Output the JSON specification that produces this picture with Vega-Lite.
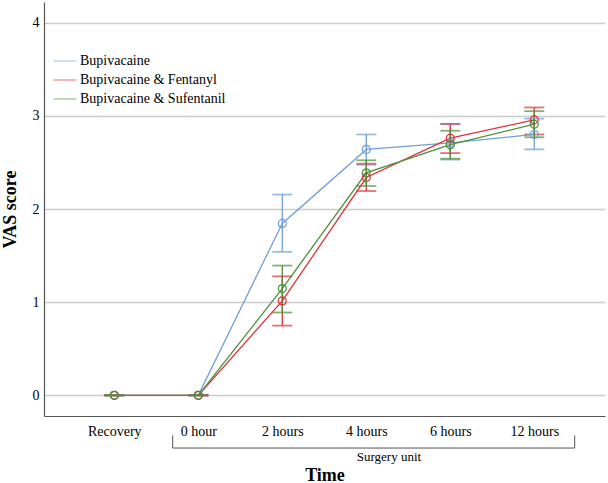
{
  "$schema": "https://vega.github.io/schema/vega-lite/v6.json",
  "autosize": {"type": "none"},
  "padding": {"left": 44, "top": 2, "right": 3, "bottom": 67},
  "width": 561,
  "height": 414,
  "background": "white",
  "config": {
    "view": {"stroke": null},
    "font": "Liberation Serif",
    "axis": {"labelColor": "black", "titleColor": "black", "domainColor": "#555", "domainWidth": 1.2}
  },
  "datasets": {
    "vas": [
      {"t": 0, "group": "Bupivacaine", "mean": 0, "lo": 0, "hi": 0},
      {"t": 1, "group": "Bupivacaine", "mean": 0, "lo": 0, "hi": 0},
      {"t": 2, "group": "Bupivacaine", "mean": 1.845, "lo": 1.54, "hi": 2.155},
      {"t": 3, "group": "Bupivacaine", "mean": 2.639, "lo": 2.475, "hi": 2.8},
      {"t": 4, "group": "Bupivacaine", "mean": 2.71, "lo": 2.53, "hi": 2.91},
      {"t": 5, "group": "Bupivacaine", "mean": 2.8, "lo": 2.64, "hi": 2.97},
      {"t": 0, "group": "Bupivacaine & Fentanyl", "mean": 0, "lo": 0, "hi": 0},
      {"t": 1, "group": "Bupivacaine & Fentanyl", "mean": 0, "lo": 0, "hi": 0},
      {"t": 2, "group": "Bupivacaine & Fentanyl", "mean": 1.013, "lo": 0.748, "hi": 1.277},
      {"t": 3, "group": "Bupivacaine & Fentanyl", "mean": 2.338, "lo": 2.193, "hi": 2.486},
      {"t": 4, "group": "Bupivacaine & Fentanyl", "mean": 2.76, "lo": 2.6, "hi": 2.914},
      {"t": 5, "group": "Bupivacaine & Fentanyl", "mean": 2.957, "lo": 2.8, "hi": 3.09},
      {"t": 0, "group": "Bupivacaine & Sufentanil", "mean": 0, "lo": 0, "hi": 0},
      {"t": 1, "group": "Bupivacaine & Sufentanil", "mean": 0, "lo": 0, "hi": 0},
      {"t": 2, "group": "Bupivacaine & Sufentanil", "mean": 1.146, "lo": 0.889, "hi": 1.393},
      {"t": 3, "group": "Bupivacaine & Sufentanil", "mean": 2.388, "lo": 2.247, "hi": 2.523},
      {"t": 4, "group": "Bupivacaine & Sufentanil", "mean": 2.69, "lo": 2.54, "hi": 2.84},
      {"t": 5, "group": "Bupivacaine & Sufentanil", "mean": 2.91, "lo": 2.77, "hi": 3.05}
    ],
    "bracket": [
      {"t": 0.695, "t2": 0.695, "lo": -0.43, "hi": -0.566},
      {"t": 0.695, "t2": 5.481, "lo": -0.566, "hi": -0.566},
      {"t": 5.481, "t2": 5.481, "lo": -0.43, "hi": -0.566}
    ],
    "note": [
      {"t": 3.27, "mean": -0.666, "label": "Surgery unit"}
    ]
  },
  "encoding": {
    "x": {
      "field": "t",
      "type": "quantitative",
      "title": "Time",
      "scale": {"domain": [-0.837, 5.842], "nice": false, "zero": false},
      "axis": {
        "values": [0, 1, 2, 3, 4, 5],
        "labelExpr": "['Recovery', '0 hour', '2 hours', '4 hours', '6 hours', '12 hours'][datum.value]",
        "grid": false,
        "ticks": false,
        "labelFontSize": 14,
        "labelPadding": 8,
        "titleFontSize": 18,
        "titleFontWeight": "bold",
        "titlePadding": 28
      }
    },
    "color": {
      "field": "group",
      "type": "nominal",
      "scale": {
        "domain": ["Bupivacaine", "Bupivacaine & Fentanyl", "Bupivacaine & Sufentanil"],
        "range": ["#6f9fd8", "#e0303f", "#4b9136"]
      },
      "legend": {
        "orient": "none",
        "legendX": 9,
        "legendY": 47,
        "title": null,
        "symbolType": "M-1,0H1",
        "symbolSize": 529,
        "symbolStrokeWidth": 1,
        "labelFontSize": 14,
        "labelOffset": 3,
        "rowPadding": 0
      }
    }
  },
  "layer": [
    {
      "data": {"name": "vas"},
      "mark": {"type": "rule", "strokeWidth": 1.3},
      "encoding": {
        "y": {
          "field": "lo",
          "type": "quantitative",
          "title": "VAS score",
          "scale": {"domain": [-0.222, 4.222], "nice": false, "zero": false},
          "axis": {
            "values": [0, 1, 2, 3, 4],
            "format": "d",
            "grid": true,
            "gridColor": "#cccccc",
            "gridWidth": 1.5,
            "ticks": false,
            "labelFontSize": 14,
            "labelPadding": 5,
            "titleFontSize": 18,
            "titleFontWeight": "bold",
            "titlePadding": 13
          }
        },
        "y2": {"field": "hi"}
      }
    },
    {
      "data": {"name": "vas"},
      "mark": {"type": "tick", "orient": "horizontal", "size": 20, "thickness": 1.8},
      "encoding": {
        "y": {"field": "lo", "type": "quantitative", "title": "VAS score"}
      }
    },
    {
      "data": {"name": "vas"},
      "mark": {"type": "tick", "orient": "horizontal", "size": 20, "thickness": 1.8},
      "encoding": {
        "y": {"field": "hi", "type": "quantitative", "title": "VAS score"}
      }
    },
    {
      "data": {"name": "vas"},
      "mark": {"type": "line", "strokeWidth": 1.3},
      "encoding": {
        "y": {"field": "mean", "type": "quantitative", "title": "VAS score"}
      }
    },
    {
      "data": {"name": "vas"},
      "mark": {"type": "point", "filled": false, "size": 64, "strokeWidth": 1.2, "opacity": 1},
      "encoding": {
        "y": {"field": "mean", "type": "quantitative", "title": "VAS score"}
      }
    },
    {
      "data": {"name": "bracket"},
      "mark": {"type": "rule", "strokeWidth": 1},
      "encoding": {
        "x2": {"field": "t2"},
        "y": {"field": "lo", "type": "quantitative", "title": "VAS score"},
        "y2": {"field": "hi"},
        "color": {"value": "#555555"}
      }
    },
    {
      "data": {"name": "note"},
      "mark": {"type": "text", "fontSize": 13, "baseline": "middle", "align": "center"},
      "encoding": {
        "y": {"field": "mean", "type": "quantitative", "title": "VAS score"},
        "text": {"field": "label"},
        "color": {"value": "black"}
      }
    }
  ]
}
